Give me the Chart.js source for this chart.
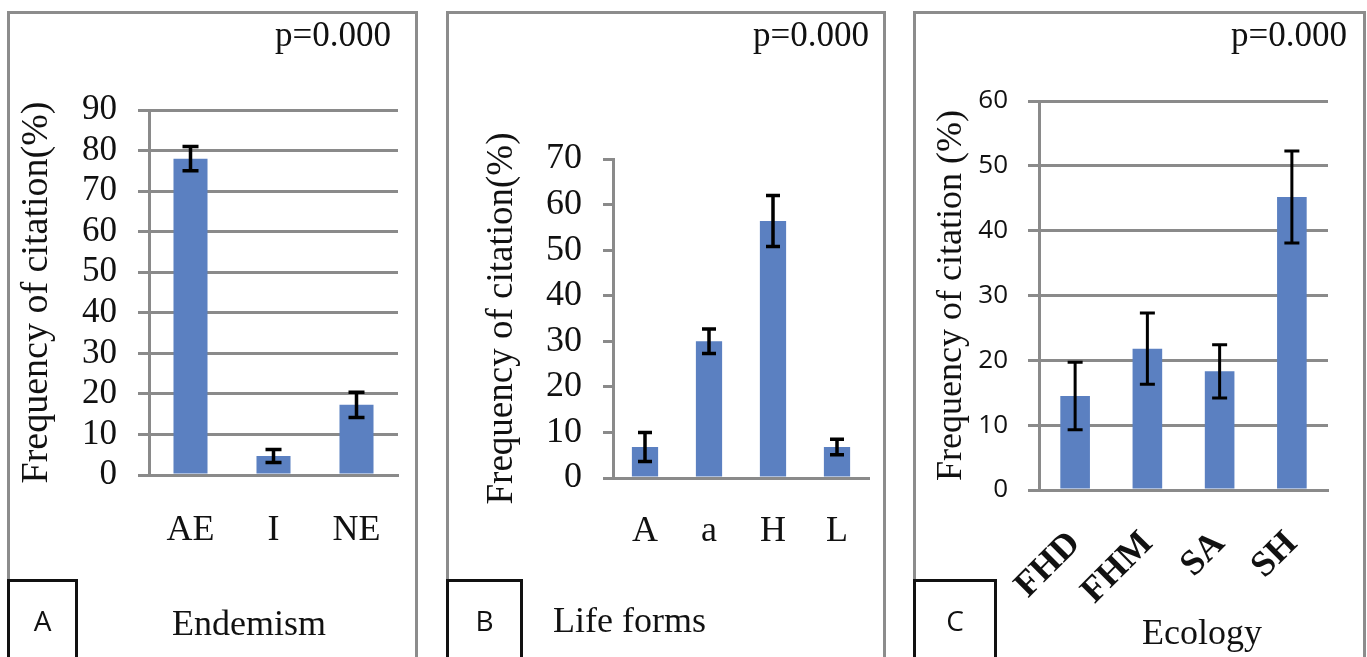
<!DOCTYPE html>
<html>
<head>
<meta charset="utf-8">
<script src="https://cdn.jsdelivr.net/npm/chart.js@4.4.1/dist/chart.umd.min.js"></script>
<style>
  body { margin: 0; background: #fff; width: 1367px; height: 657px; overflow: hidden; position: relative;
         font-family: 'Liberation Serif', serif; color: #111; }
  .panel { position: absolute; top: 11px; height: 720px; border: 3px solid #8c8c8c; box-sizing: border-box; }
  .tag { position: absolute; top: 579px; height: 120px; border: 3px solid #111; box-sizing: border-box;
         font-family: 'Open Sans', sans-serif; font-size: 28px; text-align: center; line-height: 76px; }
  .pval { position: absolute; top: 15px; font-size: 35px; line-height: 40px; }
  .xtitle { position: absolute; font-size: 36px; line-height: 40px; white-space: nowrap; }
  canvas { position: absolute; top: 0; }
</style>
</head>
<body>
<div class="panel" style="left:7px;width:411px"></div>
<div class="panel" style="left:446px;width:440px"></div>
<div class="panel" style="left:913px;width:453px"></div>

<canvas id="chartA" width="430" height="657" style="left:0"></canvas>
<canvas id="chartB" width="460" height="657" style="left:430px"></canvas>
<canvas id="chartC" width="477" height="657" style="left:890px"></canvas>

<div class="pval" style="left:275px">p=0.000</div>
<div class="pval" style="left:753px">p=0.000</div>
<div class="pval" style="left:1231px">p=0.000</div>

<div class="tag" style="left:7px;width:71px">A</div>
<div class="tag" style="left:446px;width:77px">B</div>
<div class="tag" style="left:913px;width:84px">C</div>

<div class="xtitle" style="left:172px;top:603px">Endemism</div>
<div class="xtitle" style="left:553px;top:600px">Life forms</div>
<div class="xtitle" style="left:1142px;top:612px">Ecology</div>

<script>
// data (mean frequency of citation % and error bar half-length)
const endemismLabels = ['AE', 'I', 'NE'];
const endemismValues = [78, 4.7, 17.3];
const endemismErrors = [3, 1.6, 3.1];

const lifeFormLabels = ['A', 'a', 'H', 'L'];
const lifeFormValues = [6.8, 30, 56.4, 6.8];
const lifeFormErrors = [3.2, 2.7, 5.6, 1.7];

const ecologyLabels = ['FHD', 'FHM', 'SA', 'SH'];
const ecologyValues = [14.5, 21.8, 18.3, 45.2];
const ecologyErrors = [5.2, 5.5, 4.1, 7.1];

const yMaxA = 90, yMaxB = 70, yMaxC = 60;

const barColor = '#5b80c1';
const axisGray = '#8a8a8a';
const serif = "'Liberation Serif', serif";

Chart.defaults.font.family = serif;

const errorBars = {
  id: 'errorBars',
  afterDatasetsDraw(chart, args, opts) {
    const ctx = chart.ctx;
    const ds = chart.data.datasets[0];
    const yScale = chart.scales.y;
    ctx.save();
    ctx.strokeStyle = '#000';
    ctx.lineWidth = opts.width || 3;
    chart.getDatasetMeta(0).data.forEach((bar, i) => {
      const top = yScale.getPixelForValue(ds.data[i] + ds.errors[i]);
      const bot = yScale.getPixelForValue(ds.data[i] - ds.errors[i]);
      const half = (opts.cap || 14) / 2;
      ctx.beginPath();
      ctx.moveTo(bar.x, top); ctx.lineTo(bar.x, bot);
      ctx.moveTo(bar.x - half, top); ctx.lineTo(bar.x + half, top);
      ctx.moveTo(bar.x - half, bot); ctx.lineTo(bar.x + half, bot);
      ctx.stroke();
    });
    ctx.restore();
  }
};

function setupChart(id, labels, values, errors, o) {
  let ctx = document.getElementById(id);
  return new Chart(ctx, {
    type: 'bar',
    data: {
      labels: labels,
      datasets: [{
        data: values,
        errors: errors,
        backgroundColor: barColor,
        categoryPercentage: 1,
        barPercentage: 0.41
      }]
    },
    plugins: [errorBars],
    options: {
      responsive: false,
      animation: false,
      layout: { padding: { left: 0, right: o.padRight, top: o.padTop, bottom: o.padBottom } },
      plugins: {
        legend: { display: false },
        tooltip: { enabled: false },
        errorBars: { cap: o.cap, width: o.errWidth }
      },
      scales: {
        x: {
          grid: { display: false },
          border: { display: true, color: axisGray, width: 3 },
          ticks: {
            color: '#111',
            font: { family: serif, size: o.xFontSize, weight: o.xBold ? 'bold' : 'normal' },
            padding: o.xPad,
            maxRotation: o.rot, minRotation: o.rot, autoSkip: false
          },
          afterFit: s => { s.height = o.xHeight; s.paddingLeft = 0; s.paddingRight = 0; }
        },
        y: {
          min: 0, max: o.yMax,
          grid: {
            color: axisGray, lineWidth: 3,
            drawOnChartArea: o.gridLines, drawTicks: true, tickLength: o.tickLen
          },
          border: { display: true, color: axisGray, width: 3 },
          ticks: {
            stepSize: 10, autoSkip: false, color: '#111', padding: o.yPad,
            font: { family: o.tickFamily || serif, size: o.yFontSize }
          },
          title: {
            display: true, text: o.yTitle, color: '#111',
            font: { family: serif, size: o.titleSize, weight: 'normal' },
            padding: { top: o.titlePad, bottom: 0 }
          },
          afterFit: s => { s.width = o.yWidth; s.paddingTop = 0; s.paddingBottom = 0; }
        }
      }
    }
  });
}

setupChart('chartA', endemismLabels, endemismValues, endemismErrors, {
  yMax: yMaxA, yWidth: 149, padRight: 32, padTop: 110, xHeight: 100, padBottom: 82,
  tickLen: 11, yPad: 21, yFontSize: 35, xFontSize: 36, xPad: 26, rot: 0,
  gridLines: true, yTitle: 'Frequency of citation(%)', titleSize: 38, titlePad: 14,
  cap: 16, errWidth: 3.5
});

setupChart('chartB', lifeFormLabels, lifeFormValues, lifeFormErrors, {
  yMax: yMaxB, yWidth: 183, padRight: 21, padTop: 159, xHeight: 100, padBottom: 79,
  tickLen: 10, yPad: 21, yFontSize: 36, xFontSize: 36, xPad: 24, rot: 0,
  gridLines: false, yTitle: 'Frequency of citation(%)', titleSize: 37, titlePad: 50,
  cap: 14, errWidth: 3.5
});

setupChart('chartC', ecologyLabels, ecologyValues, ecologyErrors, {
  yMax: yMaxC, yWidth: 149, padRight: 39, padTop: 101, xHeight: 150, padBottom: 17,
  tickLen: 11, yPad: 20, yFontSize: 26, tickFamily: "'Open Sans', sans-serif",
  xFontSize: 36, xBold: true, xPad: 25, rot: 45,
  gridLines: true, yTitle: 'Frequency of citation (%)', titleSize: 36, titlePad: 40,
  cap: 15, errWidth: 3
});
</script>
</body>
</html>
